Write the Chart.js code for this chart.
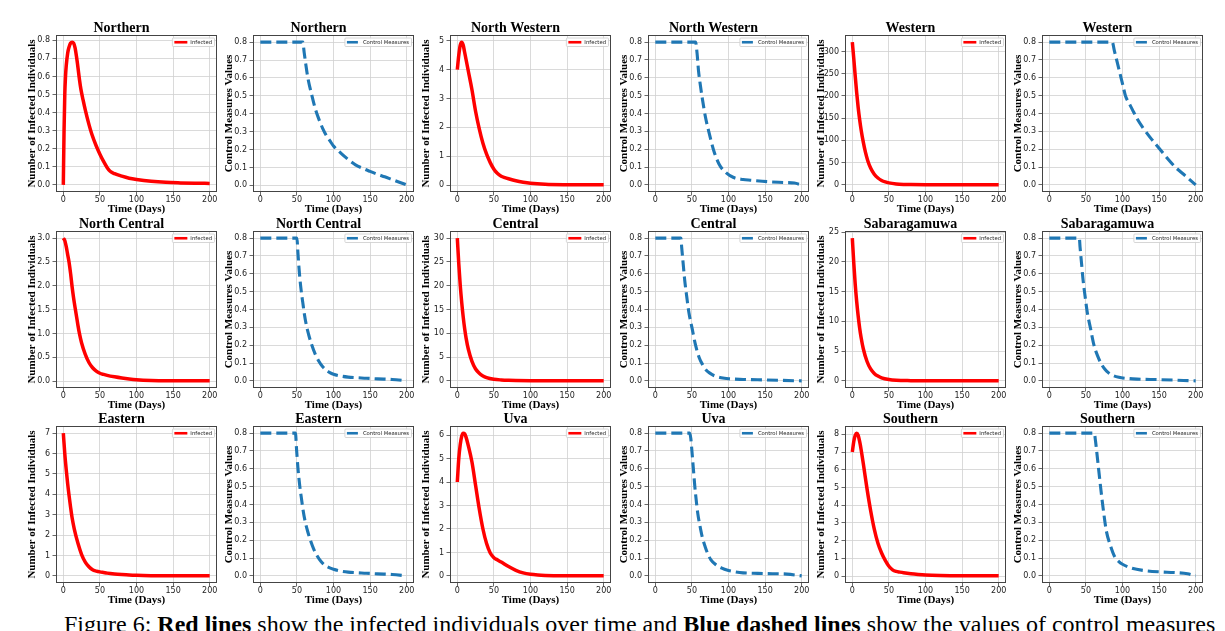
<!DOCTYPE html>
<html>
<head>
<meta charset="utf-8">
<script src="https://cdn.jsdelivr.net/npm/chart.js@4.4.1/dist/chart.umd.min.js"></script>
<style>
  html, body { margin: 0; padding: 0; background: #fff; }
  #page { position: relative; width: 1225px; height: 631px; overflow: hidden; background: #fff; }
  #page canvas { position: absolute; }
  #caption {
    position: absolute; left: 64px; top: 612px;
    font-family: 'Liberation Serif', serif; font-size: 24px; line-height: 24px;
    white-space: nowrap; color: #000; word-spacing: 0px;
  }
</style>
</head>
<body>
<div id="page">
  <div id="caption">Figure 6: <b>Red lines</b> show the infected individuals over time and <b>Blue dashed lines</b> show the values of control measures</div>
</div>
<script>
const regions = ["Northern", "North Western", "Western", "North Central", "Central", "Sabaragamuwa", "Eastern", "Uva", "Southern"];
const xTicks = [0, 50, 100, 150, 200];

// [day, infected individuals]
const infNorthern = [[0,0],[1,0.3],[2,0.5],[3,0.6],[4,0.66],[6,0.73],[8,0.765],[10,0.785],[12,0.79],[14,0.785],[16,0.76],[18,0.71],[20,0.65],[22,0.585],[24,0.53],[27,0.47],[30,0.415],[35,0.335],[39,0.28],[45,0.215],[50,0.17],[55,0.13],[60,0.095],[64,0.075],[70,0.062],[80,0.048],[90,0.037],[100,0.03],[120,0.02],[140,0.014],[160,0.011],[180,0.009],[200,0.008]];
const infNorthWestern = [[0,4.0],[2,4.5],[4,4.85],[6,4.95],[8,4.85],[10,4.6],[15,3.95],[20,3.3],[25,2.55],[30,1.95],[35,1.45],[40,1.07],[45,0.78],[50,0.55],[55,0.4],[60,0.31],[65,0.26],[70,0.22],[80,0.15],[90,0.1],[100,0.065],[120,0.03],[150,0.015],[200,0.01]];
const infWestern = [[0,321],[2,284],[4,244],[6,207],[8,174],[10,147],[12,124],[15,96],[18,73],[21,55],[25,38],[30,24],[35,15.5],[40,10],[45,6.6],[50,4.5],[60,2.2],[70,1.1],[80,0.6],[100,0.2],[150,0.05],[200,0.02]];
const infNorthCentral = [[0,3.0],[2,2.95],[4,2.82],[6,2.65],[8,2.48],[10,2.25],[12,1.98],[14,1.75],[16,1.55],[18,1.36],[20,1.17],[22,1.0],[25,0.8],[30,0.56],[35,0.39],[40,0.28],[45,0.21],[50,0.165],[55,0.14],[60,0.12],[70,0.09],[80,0.065],[90,0.045],[100,0.03],[120,0.015],[150,0.008],[200,0.005]];
const infCentral = [[0,30],[2,24.6],[4,20.1],[6,16.5],[8,13.5],[10,11],[12,9],[15,6.7],[20,4.1],[25,2.5],[30,1.6],[35,1.05],[40,0.7],[50,0.35],[60,0.2],[70,0.12],[80,0.08],[100,0.04],[150,0.015],[200,0.01]];
const infSabaragamuwa = [[0,24],[2,19.8],[4,16.2],[6,13.3],[8,10.9],[10,8.9],[12,7.3],[15,5.4],[20,3.3],[25,2.0],[30,1.25],[35,0.8],[40,0.5],[50,0.22],[60,0.1],[80,0.04],[100,0.02],[150,0.01],[200,0.0]];
const infEastern = [[0,7.0],[2,6.0],[4,5.2],[6,4.5],[8,3.9],[10,3.35],[12,2.85],[15,2.3],[20,1.6],[25,1.05],[30,0.68],[35,0.45],[40,0.3],[45,0.24],[50,0.2],[55,0.17],[60,0.14],[70,0.1],[80,0.07],[90,0.045],[100,0.03],[120,0.015],[150,0.008],[200,0.005]];
const infUva = [[0,4.0],[2,5.0],[4,5.6],[6,5.95],[8,6.08],[10,6.05],[12,5.9],[15,5.55],[20,4.85],[25,3.85],[30,2.85],[35,2.0],[40,1.38],[45,0.98],[50,0.78],[55,0.68],[60,0.59],[70,0.4],[80,0.24],[90,0.13],[100,0.07],[110,0.04],[120,0.025],[150,0.01],[200,0.005]];
const infSouthern = [[0,7.0],[2,7.6],[4,7.95],[6,8.07],[8,7.95],[10,7.6],[12,7.15],[15,6.35],[20,4.95],[25,3.7],[30,2.65],[35,1.85],[40,1.3],[45,0.88],[50,0.55],[55,0.35],[60,0.26],[65,0.22],[70,0.185],[80,0.13],[90,0.09],[100,0.06],[120,0.03],[150,0.012],[200,0.008]];

// [day, control measure value]
const ctrlNorthern = [[0,0.8],[58,0.8],[60,0.74],[62,0.68],[65,0.6],[70,0.51],[75,0.43],[80,0.37],[85,0.32],[90,0.28],[95,0.25],[100,0.22],[110,0.18],[120,0.145],[130,0.115],[140,0.095],[150,0.078],[160,0.062],[170,0.048],[180,0.033],[190,0.018],[200,0.003]];
const ctrlNorthWestern = [[0,0.8],[55,0.8],[57,0.74],[59,0.64],[61.5,0.56],[64,0.49],[68.5,0.38],[73,0.3],[80,0.19],[87,0.117],[96,0.07],[107,0.041],[120,0.03],[130,0.026],[153,0.018],[176,0.013],[190,0.01],[200,0.0]];
const ctrlWestern = [[0,0.8],[86,0.8],[89,0.75],[92,0.7],[95,0.65],[98,0.6],[101,0.55],[104,0.5],[110,0.45],[115,0.41],[120,0.37],[128,0.32],[138,0.265],[150,0.205],[161,0.15],[172,0.1],[186,0.05],[200,0.0]];
const ctrlNorthCentral = [[0,0.8],[50,0.8],[51.5,0.71],[53.5,0.6],[56,0.5],[58,0.44],[60,0.38],[63,0.31],[66,0.26],[70,0.205],[75,0.15],[80,0.11],[85,0.08],[90,0.06],[95,0.046],[100,0.037],[110,0.027],[120,0.021],[130,0.018],[145,0.015],[160,0.011],[180,0.008],[200,0.0]];
const ctrlCentral = [[0,0.8],[35,0.8],[36,0.75],[38,0.66],[40,0.57],[43,0.47],[46,0.38],[50,0.3],[55,0.2],[60,0.13],[65,0.088],[70,0.058],[75,0.042],[80,0.03],[90,0.018],[100,0.012],[120,0.008],[150,0.005],[200,0.0]];
const ctrlSabaragamuwa = [[0,0.8],[41,0.8],[42,0.75],[44,0.66],[46,0.57],[49,0.47],[52,0.38],[56,0.3],[61,0.2],[66,0.14],[71,0.095],[76,0.065],[81,0.045],[86,0.032],[95,0.02],[105,0.014],[120,0.01],[150,0.007],[200,0.0]];
const ctrlEastern = [[0,0.8],[48,0.8],[49.5,0.71],[51.5,0.6],[54,0.5],[56,0.44],[58,0.38],[61,0.31],[64,0.26],[68,0.205],[73,0.15],[78,0.11],[83,0.08],[88,0.06],[94,0.046],[100,0.037],[110,0.027],[120,0.021],[130,0.018],[145,0.015],[160,0.011],[180,0.008],[200,0.0]];
const ctrlUva = [[0,0.8],[47,0.8],[48.5,0.77],[50,0.7],[52,0.6],[54,0.5],[56,0.42],[58,0.35],[61,0.28],[64,0.22],[68,0.165],[72,0.12],[76,0.09],[82,0.065],[90,0.045],[100,0.03],[110,0.022],[120,0.017],[140,0.014],[160,0.012],[180,0.01],[200,0.0]];
const ctrlSouthern = [[0,0.8],[61.5,0.8],[63,0.76],[66,0.65],[70,0.5],[73.5,0.38],[78,0.25],[83.5,0.17],[89,0.11],[95,0.08],[100,0.065],[111,0.045],[129,0.03],[152,0.022],[170,0.019],[189,0.012],[200,0.0]];

// y tick labels
const ticksNorthern = ["0.0", "0.1", "0.2", "0.3", "0.4", "0.5", "0.6", "0.7", "0.8"];
const ticksNorthWestern = ["0", "1", "2", "3", "4", "5"];
const ticksWestern = ["0", "50", "100", "150", "200", "250", "300"];
const ticksNorthCentral = ["0.0", "0.5", "1.0", "1.5", "2.0", "2.5", "3.0"];
const ticksCentral = ["0", "5", "10", "15", "20", "25", "30"];
const ticksSabaragamuwa = ["0", "5", "10", "15", "20", "25"];
const ticksEastern = ["0", "1", "2", "3", "4", "5", "6", "7"];
const ticksUva = ["0", "1", "2", "3", "4", "5", "6"];
const ticksSouthern = ["0", "1", "2", "3", "4", "5", "6", "7", "8"];
const ticksControl = ["0.0", "0.1", "0.2", "0.3", "0.4", "0.5", "0.6", "0.7", "0.8"];

const infected = [infNorthern, infNorthWestern, infWestern, infNorthCentral, infCentral, infSabaragamuwa, infEastern, infUva, infSouthern];
const control = [ctrlNorthern, ctrlNorthWestern, ctrlWestern, ctrlNorthCentral, ctrlCentral, ctrlSabaragamuwa, ctrlEastern, ctrlUva, ctrlSouthern];
const infTicks = [ticksNorthern, ticksNorthWestern, ticksWestern, ticksNorthCentral, ticksCentral, ticksSabaragamuwa, ticksEastern, ticksUva, ticksSouthern];

Chart.defaults.font.family = 'DejaVu Sans';
const page = document.getElementById('page');
const tickFont = { family: 'DejaVu Sans', size: 8 };
const labelFont = { family: 'Liberation Serif', size: 11, weight: 'bold' };

// frame round the plot and a small legend box in its upper right corner
const framePlugin = {
  id: 'frame',
  afterDraw(chart) {
    const { ctx, chartArea: a } = chart;
    const ds = chart.data.datasets[0];
    ctx.save();
    ctx.strokeStyle = '#444';
    ctx.lineWidth = 1;
    ctx.strokeRect(Math.round(a.left) + 0.5, Math.round(a.top) + 0.5, Math.round(a.width) - 1, Math.round(a.height) - 1);

    ctx.font = '5.3px DejaVu Sans';
    const tw = ctx.measureText(ds.label).width;
    const w = 2 + 13 + 3 + tw + 2.5, h = 8.5;
    const x = a.right - 2.5 - w, y = a.top + 3;
    ctx.fillStyle = 'rgba(255,255,255,0.85)';
    ctx.strokeStyle = '#cccccc';
    ctx.lineWidth = 0.8;
    ctx.beginPath();
    ctx.roundRect(x, y, w, h, 1);
    ctx.fill();
    ctx.stroke();
    ctx.strokeStyle = ds.borderColor;
    ctx.lineWidth = 2.6;
    ctx.setLineDash(ds.borderDash);
    ctx.beginPath();
    ctx.moveTo(x + 2, y + h / 2);
    ctx.lineTo(x + 15, y + h / 2);
    ctx.stroke();
    ctx.setLineDash([]);
    ctx.fillStyle = '#222';
    ctx.textBaseline = 'middle';
    ctx.fillText(ds.label, x + 18, y + h / 2 + 0.3);
    ctx.restore();
  }
};

function makePanel(plotTop, plotLeft, title, points, labels, yTitle, name, color, dash) {
  const canvas = document.createElement('canvas');
  canvas.width = 205;
  canvas.height = 201;
  canvas.style.left = Math.round(plotLeft - 32) + 'px';
  canvas.style.top = Math.round(plotTop - 18) + 'px';
  page.appendChild(canvas);

  const ys = points.map(p => p[1]);
  const lo = Math.min(...ys), hi = Math.max(...ys);
  const margin = (hi - lo) * 0.05;

  new Chart(canvas, {
    type: 'line',
    data: {
      datasets: [{
        label: name,
        data: points.map(p => ({ x: p[0], y: p[1] })),
        borderColor: color,
        borderWidth: dash.length ? 3.1 : 3.5,
        borderDash: dash,
        pointRadius: 0,
        fill: false,
        cubicInterpolationMode: 'monotone'
      }]
    },
    options: {
      responsive: false,
      animation: false,
      layout: { padding: { left: 2, right: 12, top: 4, bottom: 2 } },
      plugins: {
        legend: { display: false },
        tooltip: { enabled: false },
        title: {
          display: true,
          text: title,
          color: '#000',
          font: { family: 'Liberation Serif', size: 14, weight: 'bold', lineHeight: 1 },
          padding: { top: 0, bottom: 0 }
        }
      },
      scales: {
        x: {
          type: 'linear',
          min: -10,
          max: 210,
          afterBuildTicks: s => { s.ticks = xTicks.map(v => ({ value: v })); },
          afterFit: s => { s.height = 24; },
          ticks: { font: tickFont, color: '#222', padding: 0, maxRotation: 0, autoSkip: false, callback: v => String(v) },
          grid: { color: '#d0d0d0', lineWidth: 0.8, tickLength: 3.5, tickColor: '#444' },
          border: { display: false },
          title: { display: true, text: 'Time (Days)', color: '#000', font: labelFont, padding: { top: 0, bottom: 0 } }
        },
        y: {
          type: 'linear',
          min: lo - margin,
          max: hi + margin,
          afterBuildTicks: s => { s.ticks = labels.map(t => ({ value: parseFloat(t) })); },
          afterFit: s => { s.width = 30; },
          ticks: { font: tickFont, color: '#222', padding: 2.5, autoSkip: false, callback: (v, i) => labels[i] },
          grid: { color: '#d0d0d0', lineWidth: 0.8, tickLength: 3.5, tickColor: '#444' },
          border: { display: false },
          title: { display: true, text: yTitle, color: '#000', font: labelFont, padding: { top: 0, bottom: 0 } }
        }
      }
    },
    plugins: [framePlugin]
  });
}

const colLeft = c => 56 + 197.2 * c;
const rowTop = r => 35 + 195.7 * r;

for (let r = 0; r < 3; r++) {
  for (let p = 0; p < 3; p++) {
    const i = r * 3 + p;
    makePanel(rowTop(r), colLeft(2 * p), regions[i], infected[i], infTicks[i],
      'Number of Infected Individuals', 'Infected', '#ff0000', []);
    makePanel(rowTop(r), colLeft(2 * p + 1), regions[i], control[i], ticksControl,
      'Control Measures Values', 'Control Measures', '#1f77b4', [11, 5]);
  }
}
</script>
</body>
</html>
